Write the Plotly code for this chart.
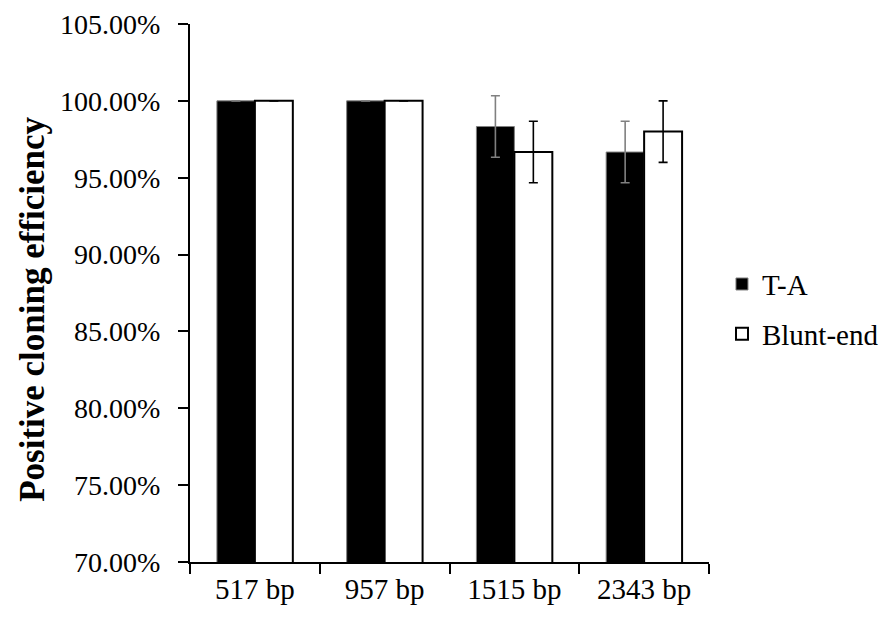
import plotly.graph_objects as go

categories = ["517 bp", "957 bp", "1515 bp", "2343 bp"]
ta_values = [100.0, 100.0, 98.33, 96.67]
ta_errors = [0.0, 0.0, 2.0, 2.0]
blunt_values = [100.0, 100.0, 96.67, 98.0]
blunt_errors = [0.0, 0.0, 2.0, 2.0]
y_ticks = [70, 75, 80, 85, 90, 95, 100, 105]
y_tick_labels = ["70.00%", "75.00%", "80.00%", "85.00%", "90.00%",
                 "95.00%", "100.00%", "105.00%"]
y_title = "Positive cloning efficiency"

FONT = "Liberation Serif"

fig = go.Figure()
fig.add_trace(go.Bar(
    x=categories, y=ta_values, name="T-A", legendgroup="a",
    marker=dict(color="black", line=dict(color="#808080", width=1)),
    error_y=dict(type="data", array=ta_errors, visible=True,
                 color="#808080", thickness=1.6, width=4.5),
))
fig.add_trace(go.Bar(
    x=categories, y=blunt_values, name="Blunt-end", legendgroup="b",
    marker=dict(color="white", line=dict(color="black", width=2)),
    error_y=dict(type="data", array=blunt_errors, visible=True,
                 color="black", thickness=1.6, width=4.5),
))

fig.update_layout(
    width=894, height=617,
    margin=dict(l=182, r=193, t=16, b=63, autoexpand=False),
    paper_bgcolor="white", plot_bgcolor="white",
    barmode="group", bargap=0.415, bargroupgap=0,
    font=dict(family=FONT, size=28, color="black"),
    showlegend=True,
    legend=dict(x=1.025, y=0.47, xanchor="left", yanchor="middle",
                font=dict(family=FONT, size=29, color="black"),
                bgcolor="rgba(0,0,0,0)", itemwidth=30, tracegroupgap=9),
    annotations=[dict(
        text="<b>" + y_title + "</b>", textangle=-90,
        xref="paper", yref="paper", x=-0.305, y=0.47,
        xanchor="center", yanchor="middle", showarrow=False,
        font=dict(family=FONT, size=35, color="black"),
    )],
)
fig.update_xaxes(
    showline=True, linecolor="black", linewidth=2,
    ticks="outside", ticklen=10, tickwidth=2, tickcolor="black",
    tickson="boundaries", showgrid=False,
    tickfont=dict(family=FONT, size=29, color="black"),
)
fig.update_yaxes(
    range=[70, 105], tickvals=y_ticks, ticktext=y_tick_labels,
    showline=True, linecolor="black", linewidth=2,
    ticks="outside", ticklen=10, tickwidth=2, tickcolor="black",
    showgrid=False, zeroline=False, ticklabelstandoff=12,
    ticklabeloverflow="allow",
    tickfont=dict(family=FONT, size=28, color="black"),
)

fig.write_html("out.html")
